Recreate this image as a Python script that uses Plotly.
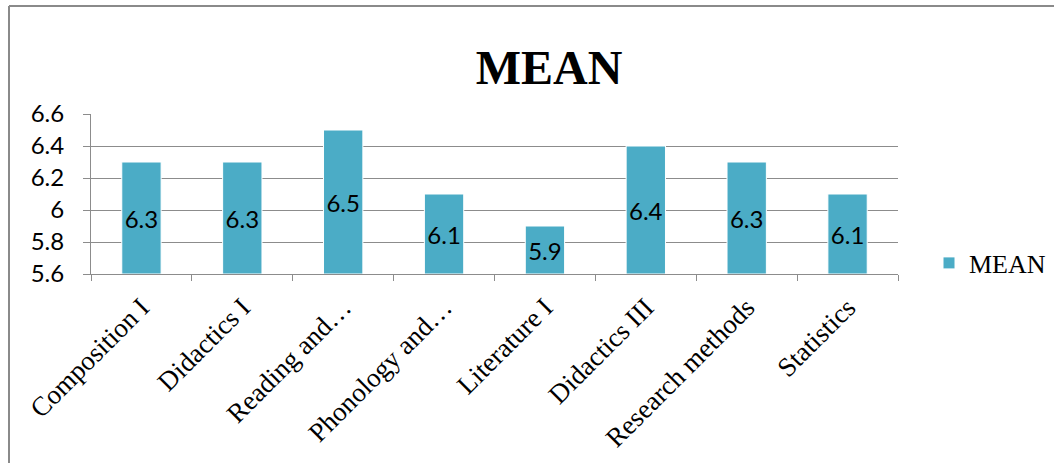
import plotly.graph_objects as go

categories = ["Composition I", "Didactics I", "Reading and…", "Phonology and…",
              "Literature I", "Didactics III", "Research methods", "Statistics"]
mean_values = [6.3, 6.3, 6.5, 6.1, 5.9, 6.4, 6.3, 6.1]
y_ticks = [5.6, 5.8, 6.0, 6.2, 6.4, 6.6]
y_tick_labels = ["5.6", "5.8", "6", "6.2", "6.4", "6.6"]
baseline = 5.6

W, H = 1055, 463
L, R, T, B = 91, 157, 114, 189
pw, ph = W - L - R, H - T - B

def px_to_paper_x(px):
    return (px - L) / pw

def px_to_paper_y(py):
    return (H - B - py) / ph

grid_col = "#8c8c8c"

fig = go.Figure()
fig.add_trace(go.Bar(
    x=categories, y=[v - baseline for v in mean_values], base=baseline, name="MEAN",
    marker=dict(color="#4BACC6", line=dict(color="#ffffff", width=1)),
    width=0.39,
    text=[f"{v:g}" for v in mean_values],
    textposition="inside", insidetextanchor="middle",
    textangle=0, constraintext="none",
    textfont=dict(family="Lato", size=24, color="#000000"),
    showlegend=True,
))

fig.update_layout(
    width=W, height=H,
    margin=dict(l=L, r=R, t=T, b=B, pad=0, autoexpand=False),
    paper_bgcolor="white", plot_bgcolor="white",
    title=dict(text="<b>MEAN</b>", x=px_to_paper_x(549), xref="paper", xanchor="center",
               y=1 - 67 / H, yanchor="middle",
               font=dict(family="Liberation Serif", size=48, color="#000000")),
    showlegend=True,
    legend=dict(x=px_to_paper_x(929), xanchor="left", y=px_to_paper_y(263), yanchor="middle",
                font=dict(family="Liberation Serif", size=26, color="#000000"),
                bgcolor="rgba(0,0,0,0)", itemwidth=30),
    xaxis=dict(type="category", showgrid=False, showline=True, linecolor=grid_col, linewidth=1,
               ticks="outside", ticklen=6, tickcolor=grid_col, tickson="boundaries",
               tickangle=-45, ticklabelstandoff=6,
               tickfont=dict(family="Liberation Serif", size=27, color="#000000")),
    yaxis=dict(range=[5.6, 6.6], tickvals=y_ticks, ticktext=y_tick_labels,
               showgrid=True, gridcolor=grid_col, gridwidth=1,
               showline=True, linecolor=grid_col, linewidth=1,
               ticks="outside", ticklen=7, tickcolor=grid_col, zeroline=False,
               ticklabelstandoff=14,
               tickfont=dict(family="Lato", size=24, color="#000000")),
)

# outer chart frame (top and left edges visible)
fig.add_shape(type="line", xref="paper", yref="paper",
              x0=px_to_paper_x(9), x1=px_to_paper_x(1054),
              y0=px_to_paper_y(6), y1=px_to_paper_y(6),
              line=dict(color="#8a8a8a", width=2))
fig.add_shape(type="line", xref="paper", yref="paper",
              x0=px_to_paper_x(9), x1=px_to_paper_x(9),
              y0=px_to_paper_y(6), y1=px_to_paper_y(463),
              line=dict(color="#8a8a8a", width=2))

fig.write_html("out.html")
